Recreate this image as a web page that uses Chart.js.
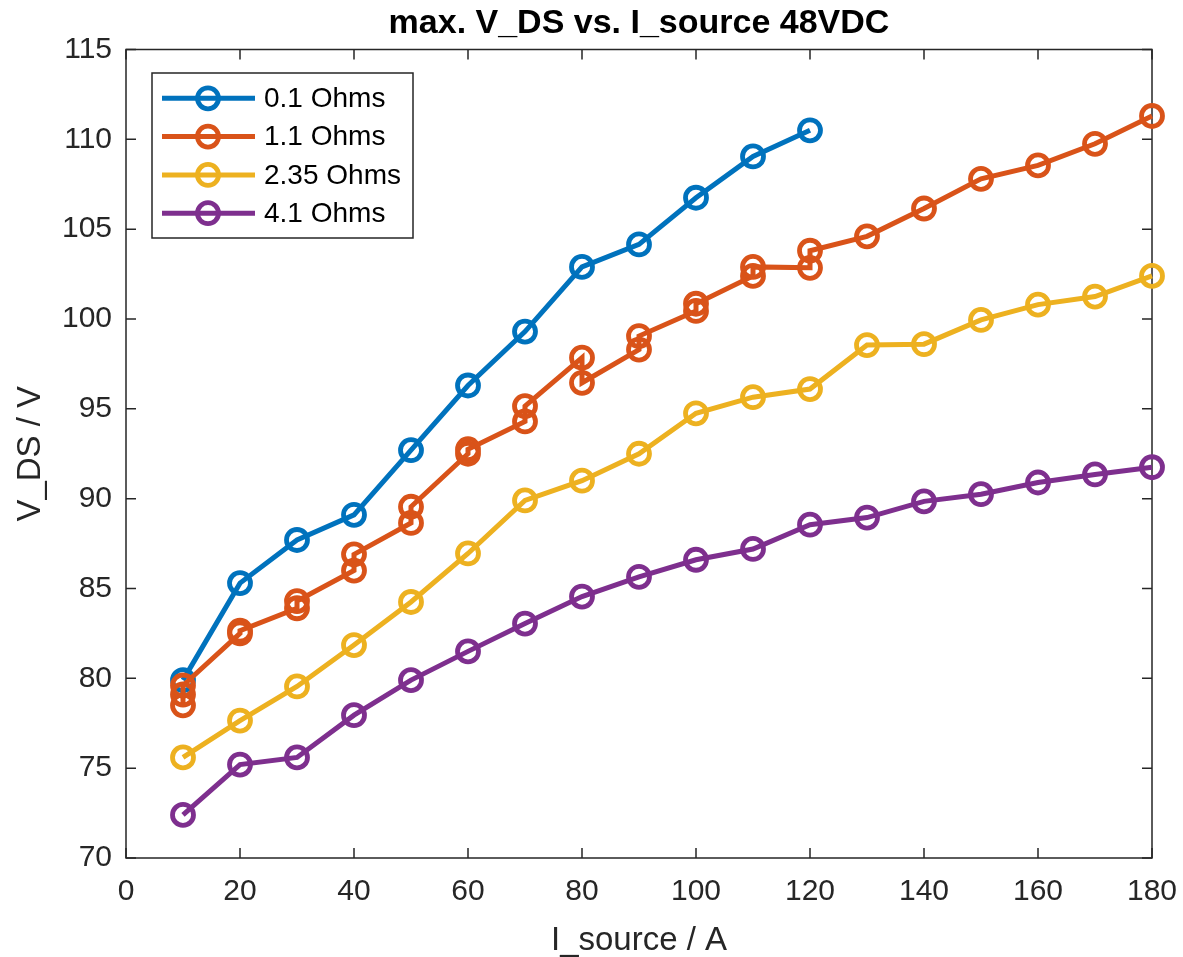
<!DOCTYPE html>
<html>
<head>
<meta charset="utf-8">
<script src="https://cdn.jsdelivr.net/npm/chart.js@4/dist/chart.umd.min.js"></script>
<style>
  html, body { margin: 0; padding: 0; background: #fff; }
  #wrap { width: 1183px; height: 957px; }
</style>
</head>
<body>
<div id="wrap"><canvas id="vdsChart"></canvas></div>
<script>
// source currents (A) used by 0.1 / 2.35 / 4.1 Ohms
const currents = [10, 20, 30, 40, 50, 60, 70, 80, 90, 100, 110, 120, 130, 140, 150, 160, 170, 180];

// max V_DS (V) readings
const ohm01 = [79.9, 85.3, 87.7, 89.1, 92.7, 96.3, 99.3, 102.9, 104.15, 106.75, 109.05, 110.5];
const ohm235 = [75.6, 77.65, 79.55, 81.85, 84.25, 86.95, 89.9, 91.0, 92.5, 94.75, 95.65, 96.1,
                98.55, 98.6, 99.95, 100.8, 101.25, 102.4];
const ohm41 = [72.4, 75.2, 75.6, 77.95, 79.9, 81.5, 83.05, 84.55, 85.65, 86.6, 87.2, 88.55,
               88.95, 89.85, 90.25, 90.9, 91.35, 91.75];

// 1.1 Ohms was measured twice (three times at 10 A) up to 120 A
const ohm11Currents = [10, 10, 10, 20, 20, 30, 30, 40, 40, 50, 50, 60, 60, 70, 70, 80, 80,
                       90, 90, 100, 100, 110, 110, 120, 120, 130, 140, 150, 160, 170, 180];
const ohm11 = [78.5, 79.1, 79.6, 82.5, 82.65, 83.9, 84.3, 86.0, 86.9, 88.65, 89.55, 92.5, 92.75,
               94.3, 95.15, 97.85, 96.45, 98.3, 99.05, 100.45, 100.85, 102.4, 102.9, 102.85, 103.8,
               104.6, 106.15, 107.8, 108.55, 109.75, 111.3];

const seriesLabels = ['0.1 Ohms', '1.1 Ohms', '2.35 Ohms', '4.1 Ohms'];
const xTicks = [0, 20, 40, 60, 80, 100, 120, 140, 160, 180];
const yTicks = [70, 75, 80, 85, 90, 95, 100, 105, 110, 115];
const chartTitle = 'max. V_DS vs. I_source 48VDC';

const colors = ['#0072BD', '#D95319', '#EDB120', '#7E2F8E'];
const textColor = '#262626';
const fontFamily = '"Liberation Sans", Arial, Helvetica, sans-serif';

function pairs(xs, ys) {
  return ys.map((v, i) => ({ x: xs[i], y: v }));
}

const seriesData = [
  pairs(currents, ohm01),
  pairs(ohm11Currents, ohm11),
  pairs(currents, ohm235),
  pairs(currents, ohm41)
];

// box round the axes with inward ticks on all four sides
const boxAxes = {
  id: 'boxAxes',
  beforeDatasetsDraw(chart) {
    const { ctx, chartArea: a, scales: { x, y } } = chart;
    const len = 10;
    ctx.save();
    ctx.strokeStyle = textColor;
    ctx.lineWidth = 1.5;
    ctx.beginPath();
    xTicks.forEach(v => {
      const px = x.getPixelForValue(v);
      ctx.moveTo(px, a.bottom); ctx.lineTo(px, a.bottom - len);
      ctx.moveTo(px, a.top); ctx.lineTo(px, a.top + len);
    });
    yTicks.forEach(v => {
      const py = y.getPixelForValue(v);
      ctx.moveTo(a.left, py); ctx.lineTo(a.left + len, py);
      ctx.moveTo(a.right, py); ctx.lineTo(a.right - len, py);
    });
    ctx.stroke();
    ctx.strokeRect(a.left, a.top, a.right - a.left, a.bottom - a.top);
    // title centred over the axes, like matlab does
    ctx.fillStyle = '#000';
    ctx.font = 'bold 34px ' + fontFamily;
    ctx.textAlign = 'center';
    ctx.textBaseline = 'middle';
    ctx.fillText(chartTitle, (a.left + a.right) / 2, 24);
    ctx.restore();
  }
};

// matlab-like legend: line with a marker in the middle
const boxLegend = {
  id: 'boxLegend',
  afterDraw(chart) {
    const { ctx, chartArea: a } = chart;
    const left = a.left + 26, top = a.top + 23.5, w = 261, h = 165;
    const rowH = 38.3;
    ctx.save();
    ctx.fillStyle = '#fff';
    ctx.fillRect(left, top, w, h);
    ctx.strokeStyle = textColor;
    ctx.lineWidth = 1.5;
    ctx.strokeRect(left, top, w, h);
    ctx.font = '28px ' + fontFamily;
    ctx.textBaseline = 'middle';
    chart.data.datasets.forEach((ds, i) => {
      const cy = top + 25.3 + i * rowH;
      ctx.strokeStyle = ds.borderColor;
      ctx.lineWidth = ds.borderWidth;
      ctx.beginPath();
      ctx.moveTo(left + 10, cy);
      ctx.lineTo(left + 103, cy);
      ctx.stroke();
      ctx.lineWidth = ds.pointBorderWidth;
      ctx.beginPath();
      ctx.arc(left + 56, cy, ds.pointRadius, 0, Math.PI * 2);
      ctx.stroke();
      ctx.fillStyle = '#000';
      ctx.fillText(ds.label, left + 112, cy + 1);
    });
    ctx.restore();
  }
};

const ctx = document.getElementById('vdsChart').getContext('2d');
const vdsChart = new Chart(ctx, {
  type: 'line',
  data: {
    datasets: seriesLabels.map((label, i) => ({
      label: label,
      data: seriesData[i],
      borderColor: colors[i],
      backgroundColor: colors[i],
      borderWidth: 5,
      pointRadius: 10.5,
      pointHoverRadius: 10.5,
      pointBorderWidth: 4.8,
      pointBackgroundColor: 'rgba(0,0,0,0)',
      pointBorderColor: colors[i],
      fill: false,
      tension: 0,
      clip: false,
      order: 4 - i
    }))
  },
  options: {
    responsive: true,
    maintainAspectRatio: false,
    animation: false,
    layout: { padding: { left: 0, right: 31, top: 49.5, bottom: 0 } },
    plugins: {
      legend: { display: false },
      tooltip: { enabled: false },
      title: { display: false }
    },
    scales: {
      x: {
        type: 'linear',
        min: 0,
        max: 180,
        grid: { display: false, drawTicks: false },
        border: { display: false },
        afterBuildTicks: s => { s.ticks = xTicks.map(v => ({ value: v })); },
        afterFit: s => { s.height = 99; s.paddingRight = 0; s.paddingLeft = 0; },
        ticks: {
          autoSkip: false,
          maxRotation: 0,
          padding: 16,
          color: textColor,
          font: { family: fontFamily, size: 30 }
        },
        title: {
          display: true,
          text: 'I_source / A',
          color: textColor,
          font: { family: fontFamily, size: 33 },
          padding: { top: 0, bottom: -4 }
        }
      },
      y: {
        min: 70,
        max: 115,
        grid: { display: false, drawTicks: false },
        border: { display: false },
        afterBuildTicks: s => { s.ticks = yTicks.map(v => ({ value: v })); },
        afterFit: s => { s.width = 126; s.paddingTop = 0; s.paddingBottom = 0; },
        ticks: {
          padding: 14,
          color: textColor,
          font: { family: fontFamily, size: 30 }
        },
        title: {
          display: true,
          text: 'V_DS / V',
          color: textColor,
          font: { family: fontFamily, size: 33 },
          padding: { top: 11, bottom: 0 }
        }
      }
    }
  },
  plugins: [boxAxes, boxLegend]
});
</script>
</body>
</html>
